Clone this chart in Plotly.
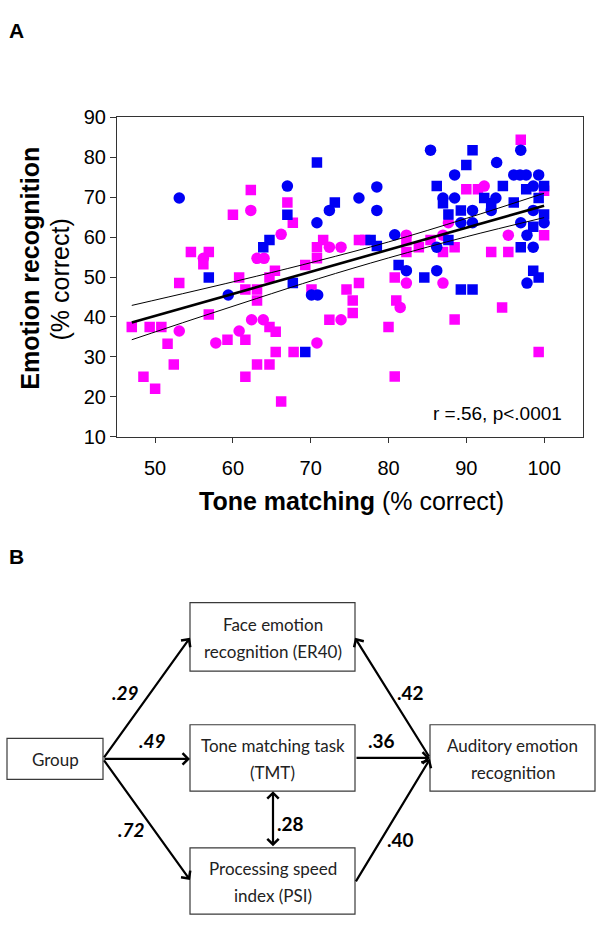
import plotly.graph_objects as go

# ---------------- Panel A data ----------------
ms_x = [62.3, 60.0, 67.0, 67.7, 54.6, 56.2, 56.9, 53.1, 60.8, 71.6, 70.8, 70.8, 69.3, 65.4, 64.7,
        76.2, 77.0, 80.8, 76.2, 61.6, 63.1, 70.1, 74.6, 63.1, 75.4, 75.4, 81.0, 47.0, 49.3, 50.8,
        51.6, 52.4, 48.5, 50.0, 56.9, 64.7, 65.5, 59.3, 61.6, 65.5, 67.8, 63.1, 64.7, 61.6, 66.2,
        72.4, 97.0, 90.0, 91.5, 100.0, 100.0, 82.3, 85.4, 83.9, 88.5, 82.3, 87.0, 93.2, 95.4, 94.6,
        88.5, 80.0, 99.3, 80.8]
ms_y = [71.8, 65.6, 68.7, 63.6, 56.3, 53.2, 56.3, 48.5, 49.9, 59.3, 57.5, 54.7, 53.0, 51.6, 49.9,
        59.3, 59.3, 49.9, 48.5, 46.9, 46.9, 46.9, 46.9, 44.1, 44.1, 41.0, 44.1, 37.5, 37.5, 37.5,
        33.3, 28.1, 25.0, 22.0, 40.6, 37.5, 36.3, 34.3, 34.3, 31.2, 31.2, 28.1, 28.1, 25.0, 18.8,
        39.3, 84.4, 72.0, 72.0, 71.6, 60.5, 59.2, 59.3, 57.5, 57.5, 56.3, 56.3, 56.3, 56.3, 42.4,
        39.4, 37.5, 31.2, 25.1]

mc_x = [62.3, 66.2, 56.2, 63.1, 64.0, 72.4, 73.9, 81.5, 53.1, 62.4, 63.9, 60.8, 57.8, 70.8, 73.9,
        92.3, 87.7, 95.4, 82.3, 87.0, 82.3, 87.0]
mc_y = [66.7, 60.7, 54.7, 54.7, 54.7, 57.5, 57.5, 42.4, 36.5, 39.3, 39.3, 36.5, 33.5, 33.5, 39.3,
        72.8, 63.6, 60.5, 60.5, 60.5, 48.5, 48.5]

bs_x = [70.8, 73.1, 67.0, 64.7, 63.9, 56.9, 67.7, 77.7, 78.5, 81.3, 69.3, 90.8, 90.0, 86.2, 94.7,
        97.7, 100.0, 87.0, 92.3, 93.2, 96.1, 99.3, 89.3, 87.7, 100.0, 98.6, 87.7, 97.0, 84.6, 98.6,
        99.3, 89.3, 90.8]
bs_y = [78.7, 68.7, 65.6, 59.3, 57.5, 49.9, 48.5, 59.3, 57.8, 53.0, 31.2, 81.8, 78.1, 72.8, 72.8,
        72.0, 72.8, 68.5, 69.8, 68.5, 68.7, 69.8, 66.7, 65.7, 65.7, 62.6, 59.3, 57.5, 49.9, 51.6,
        49.9, 46.9, 46.9]

bc_x = [53.1, 67.0, 72.4, 70.8, 78.5, 76.2, 78.5, 80.8, 70.1, 70.9, 59.4, 97.0, 85.4, 93.9, 88.5,
        96.1, 96.9, 97.7, 99.3, 98.6, 87.0, 88.5, 93.8, 90.8, 93.2, 98.6, 89.3, 90.8, 97.0, 100.0,
        97.8, 86.2, 98.6, 82.3, 86.2, 97.8]
bc_y = [69.8, 72.8, 66.7, 63.6, 72.6, 69.8, 66.7, 60.6, 45.5, 45.5, 45.5, 81.8, 81.8, 78.7, 75.6,
        75.6, 75.6, 75.6, 75.6, 72.8, 69.8, 69.8, 69.8, 66.7, 66.7, 66.7, 63.6, 63.6, 63.6, 63.6,
        60.5, 57.5, 57.5, 51.6, 51.6, 48.5]

fit_x = [47, 100]
fit_y = [38.6, 67.9]
ci_x = [47, 55, 63, 71, 80, 90, 100]
ci_upper = [42.9, 46.5, 50.2, 54.1, 58.8, 64.7, 71.0]
ci_lower = [34.3, 39.5, 44.6, 49.6, 54.8, 60.1, 64.9]

x_ticks = [50, 60, 70, 80, 90, 100]
y_ticks = [10, 20, 30, 40, 50, 60, 70, 80, 90]
stat_text = "r =.56, p<.0001"

# ---------------- Panel B data ----------------
node_labels = [["Face emotion", "recognition (ER40)"], ["Group"], ["Tone matching task", "(TMT)"],
               ["Auditory emotion", "recognition"], ["Processing speed", "index (PSI)"]]
path_labels = [".29", ".49", ".72", ".42", ".36", ".28", ".40"]

# ---------------- layout constants ----------------
W, H = 602, 933
MAG = "#FF00FF"
BLU = "#0000F5"
FONT = "Liberation Sans, Arial, sans-serif"
BFONT = "Lato, sans-serif"

def px(x):
    return x / W

def py(y):
    return 1 - y / H

fig = go.Figure()

fig.add_trace(go.Scatter(x=ms_x, y=ms_y, mode="markers",
                         marker=dict(symbol="square", size=10.5, color=MAG), showlegend=False))
fig.add_trace(go.Scatter(x=mc_x, y=mc_y, mode="markers",
                         marker=dict(symbol="circle", size=11.5, color=MAG), showlegend=False))
fig.add_trace(go.Scatter(x=bc_x, y=bc_y, mode="markers",
                         marker=dict(symbol="circle", size=11.5, color=BLU), showlegend=False))
fig.add_trace(go.Scatter(x=bs_x, y=bs_y, mode="markers",
                         marker=dict(symbol="square", size=10.5, color=BLU), showlegend=False))
fig.add_trace(go.Scatter(x=ci_x, y=ci_upper, mode="lines", line=dict(color="black", width=1, shape="spline"),
                         showlegend=False))
fig.add_trace(go.Scatter(x=ci_x, y=ci_lower, mode="lines", line=dict(color="black", width=1, shape="spline"),
                         showlegend=False))
fig.add_trace(go.Scatter(x=fit_x, y=fit_y, mode="lines", line=dict(color="black", width=2.6),
                         showlegend=False))

def pann(text, x, y, size, angle=0, xanchor="center"):
    return dict(text=text, x=px(x), y=py(y), xref="paper", yref="paper", xanchor=xanchor,
                yanchor="middle", showarrow=False, textangle=angle,
                font=dict(family=FONT, size=size, color="black"))

ann = [
    pann("<b>A</b>", 16, 19.5, 21),
    pann("<b>B</b>", 16, 559, 21),
    pann("<b>Tone matching</b> (% correct)", 351, 502, 25),
    pann("<b>Emotion recognition</b>", 30, 264, 25, angle=-90),
    pann("(% correct)", 60, 275, 25, angle=-90),
    pann(stat_text, 564, 412, 19, xanchor="right"),
]

# ---------------- Panel B diagram ----------------
# node geometry (x0, x1, y0, y1) in diagram pixel units
boxes = [(190, 355, 606, 676), (7, 103, 745, 787), (190, 355, 731, 799),
         (430, 595, 731, 799), (190, 355, 857, 925)]
line_gap = 28
shapes = []
for (x0, x1, y0, y1), lines in zip(boxes, node_labels):
    shapes.append(dict(type="rect", xref="x2", yref="y2", x0=x0, x1=x1, y0=y0, y1=y1,
                       line=dict(color="#3a3a3a", width=1.2), fillcolor="white", layer="below"))
    cy = (y0 + y1) / 2 + 1
    n = len(lines)
    for i, t in enumerate(lines):
        ann.append(dict(text=t, x=(x0 + x1) / 2, y=cy + (i - (n - 1) / 2) * line_gap,
                        xref="x2", yref="y2", xanchor="center", yanchor="middle", showarrow=False,
                        font=dict(family=BFONT, size=17, color="#222222")))

# arrows: (tail, head, double)
arrows = [((103, 766), (190, 642), False),
          ((103, 766), (190, 766), False),
          ((103, 766), (190, 890), False),
          ((430, 765), (355, 642), False),
          ((355, 765), (430, 765), False),
          ((355, 893), (430, 766), False),
          ((273, 857), (273, 799), True)]
for (tx, ty), (hx, hy), dbl in arrows:
    a = dict(text="", x=hx, y=hy, ax=tx, ay=ty, xref="x2", yref="y2", axref="x2", ayref="y2",
             showarrow=True, arrowhead=4, arrowsize=1.0, arrowwidth=2.2, arrowcolor="black",
             standoff=0, startstandoff=0)
    if dbl:
        a.update(arrowside="end+start", startarrowhead=4, startarrowsize=1.0)
    ann.append(a)

label_pos = [(125, 698, True), (152, 747, True), (131, 838, True), (410, 698, False),
             (381, 747, False), (290, 832, False), (400, 848, False)]
for lab, (lx, ly, it) in zip(path_labels, label_pos):
    t = "<b><i>%s</i></b>" % lab if it else "<b>%s</b>" % lab
    ann.append(dict(text=t, x=lx, y=ly, xref="x2", yref="y2", xanchor="center", yanchor="middle",
                    showarrow=False, font=dict(family=BFONT, size=19, color="black")))

fig.update_layout(
    width=W, height=H, autosize=False,
    margin=dict(l=0, r=0, t=0, b=0),
    paper_bgcolor="white", plot_bgcolor="white",
    xaxis=dict(domain=[px(117), px(583)], range=[45.1, 105.0], tickvals=x_ticks,
               ticks="outside", ticklen=5, tickcolor="#333", showgrid=False, zeroline=False,
               showline=True, linecolor="#333", linewidth=1.2, mirror=True,
               tickfont=dict(family=FONT, size=20, color="black"), ticklabelstandoff=8,
               anchor="y"),
    yaxis=dict(domain=[py(436), py(109)], range=[10, 90], tickvals=y_ticks,
               ticks="outside", ticklen=6, tickcolor="#333", showgrid=False, zeroline=False,
               showline=True, linecolor="#333", linewidth=1.2, mirror=True,
               tickfont=dict(family=FONT, size=20, color="black"), anchor="x"),
    xaxis2=dict(domain=[0, 1], range=[0, W], visible=False, anchor="y2"),
    yaxis2=dict(domain=[0, py(541)], range=[H, 541], visible=False, anchor="x2"),
    shapes=shapes,
    annotations=ann,
)

fig.write_html("out.html", config={"displayModeBar": False},
               post_script="document.body.style.margin='0';")
